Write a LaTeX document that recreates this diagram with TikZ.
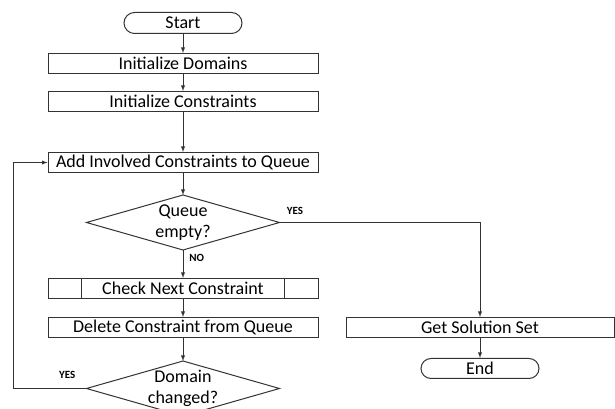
\documentclass[tikz,border=0pt]{standalone}
\usepackage{fontspec}
\setmainfont{Carlito}
\usetikzlibrary{shapes}
\usetikzlibrary{positioning}
\usetikzlibrary{calc}
\usetikzlibrary{arrows}

\begin{document}
\begin{tikzpicture}[
    x=1pt, y=1pt,
    >=latex,
    node distance=17pt,
    every node/.style={font=\fontsize{18}{21.5}\selectfont},
    line/.style={draw=black!80, line width=0.9pt},
    flowbox/.style={draw=black!80, line width=1pt, minimum width=270pt, minimum height=20pt, inner sep=0pt},
    terminal/.style={draw=black!80, line width=1pt, rounded rectangle, minimum width=118pt, minimum height=21pt, inner sep=0pt},
    decision/.style={draw=black!80, line width=1pt, diamond, aspect=3.5, minimum width=193pt, minimum height=55pt, inner sep=-8pt, outer sep=0pt, align=center},
    answer/.style={font=\fontsize{11}{13}\selectfont\bfseries, inner sep=1pt}
]
\useasboundingbox[fill=white] (0,0) rectangle (615,409);
\node[terminal] (start) at (183,386) {Start};
\node[flowbox, below=19pt of start] (dom) {Initialize Domains};
\node[flowbox, below=of dom] (cons) {Initialize Constraints};
\node[flowbox, below=40pt of cons] (add) {Add Involved Constraints to Queue};
\node[decision, below=22pt of add] (queue) {Queue\\empty?};
\node[flowbox, below=28pt of queue] (check) {Check Next Constraint};
\node[flowbox, below=18pt of check] (del) {Delete Constraint from Queue};
\node[decision, below=23pt of del] (changed) {Domain\\changed?};
\node[flowbox, minimum width=268pt, right=27pt of del] (sol) {Get Solution Set};
\node[terminal, minimum height=20pt, below=20pt of sol] (end) {End};
% side bars of the subroutine box
\draw[line] ([xshift=34pt]check.north west) -- ([xshift=34pt]check.south west);
\draw[line] ([xshift=-34pt]check.north east) -- ([xshift=-34pt]check.south east);
\draw[->, line] (start) -- (dom);
\draw[->, line] (dom) -- (cons);
\draw[->, line] (cons) -- (add);
\draw[->, line] (add) -- (queue);
\draw[->, line] (queue) -- node[answer, pos=0.3, right=5pt] {NO} (check);
\draw[->, line] (check) -- (del);
\draw[->, line] (del) -- (changed);
\draw[->, line] (queue.east) -| node[answer, pos=0, anchor=south west, xshift=6pt, yshift=6pt] {YES} (sol.north);
\draw[->, line] (sol) -- (end);
\draw[->, line] (changed.west) -- ++(-73pt,0) |- (add.west);
\node[answer, anchor=south east, xshift=-10pt, yshift=9pt] (loopyes) at (changed.west) {YES};
\end{tikzpicture}
\end{document}
